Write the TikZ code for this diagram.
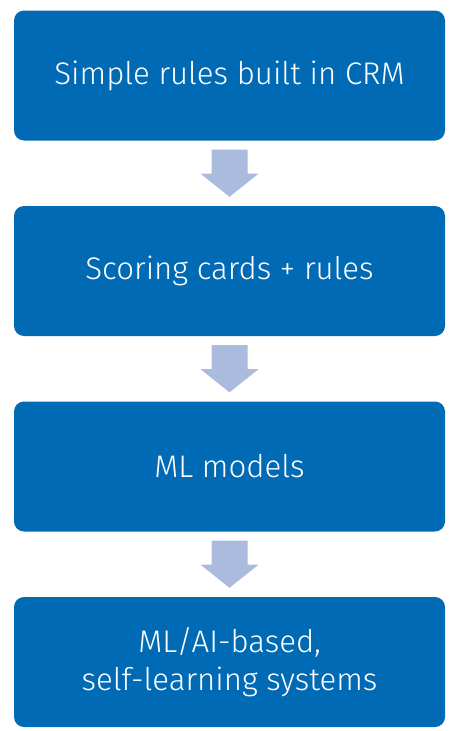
\documentclass[tikz,border=0pt]{standalone}
\usepackage{fontspec}
\setmainfont{Fira Sans Light}
\usetikzlibrary{calc}
\definecolor{boxblue}{RGB}{0,107,180}
\definecolor{arrowblue}{RGB}{170,187,221}
\begin{document}
\begin{tikzpicture}[x=1pt,y=-1pt,
  stagebox/.style={fill=boxblue, rounded corners=10pt, minimum width=431pt, minimum height=130pt,
    text=white, font=\fontsize{31.2}{38}\selectfont, align=center, inner sep=0pt},
  fatarrow/.style={fill=arrowblue, draw=none}]
\useasboundingbox (0,0) rectangle (450,731);
\node[stagebox] (b1) at (229.5,75.5) {Simple rules built in CRM};
\node[stagebox] (b2) at (229.5,271) {Scoring cards + rules};
\node[stagebox] (b3) at (229.5,466.5) {ML models};
\node[stagebox] (b4) at (229.5,662) {ML/AI-based,\\self-learning systems};
\foreach \a/\b in {b1/b2,b2/b3,b3/b4}{
  \path (\a.south) ++(0,9) coordinate (s) (\b.north) ++(0,-9) coordinate (t);
  \fill[fatarrow] ($(s)+(-18,0)$) -- ($(s)+(18,0)$) -- ($(s)+(18,24)$) -- ($(s)+(29,24)$)
     -- (t) -- ($(s)+(-29,24)$) -- ($(s)+(-18,24)$) -- cycle;
}
\end{tikzpicture}
\end{document}
